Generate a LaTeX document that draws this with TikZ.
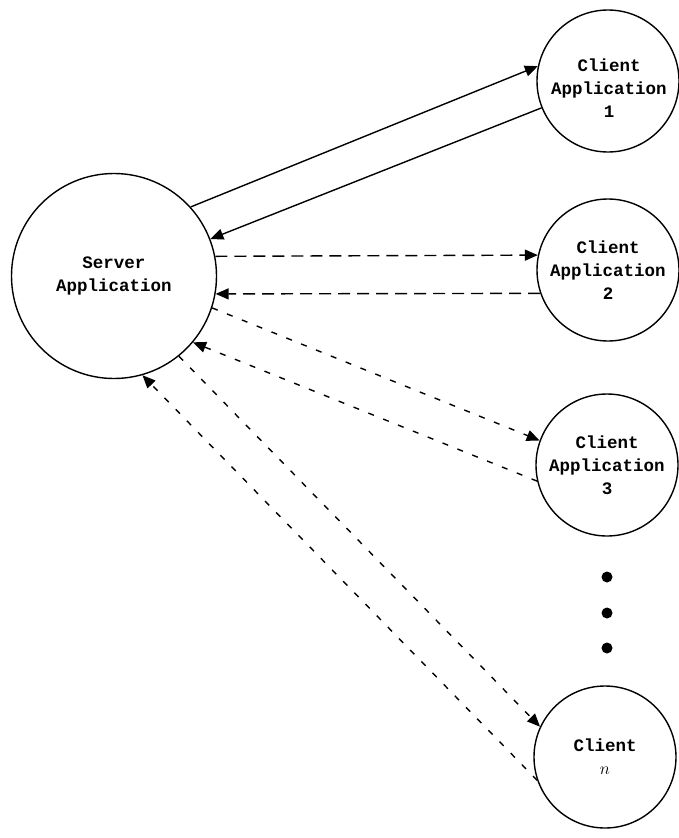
\documentclass[tikz,border=0pt]{standalone}
\usepackage{fontspec}
\newfontfamily\bmfont{Liberation Mono}
\usetikzlibrary{arrows.meta}
\begin{document}
\begin{tikzpicture}[x=1pt,y=-1pt,
  txt/.style={inner sep=0pt,align=center,font=\bmfont\bfseries\fontsize{17.5}{23}\selectfont},
  app/.style={txt,circle,draw,line width=1.4pt},
  srvbox/.style={app,minimum size=205pt},
  clibox/.style={app,minimum size=142pt},
  link/.style={line width=1.4pt,-{Triangle[length=13pt,width=11pt]}},
  dashH/.style={link,dash pattern=on 12pt off 7pt},
  dashD/.style={link,dash pattern=on 6pt off 10pt}]
\useasboundingbox (0,0) rectangle (678,838);
\node[srvbox] (srv) at (114,276) {Server\\Application};
\node[clibox] (c1) at (608,81) {};
\node[txt] (c1t) at (609,88) {Client\\Application\\1};
\node[clibox] (c2) at (608,270) {Client\\Application\\2};
\node[clibox] (c3) at (607,465) {Client\\Application\\3};
\node[clibox] (cn) at (605,757) {Client\\$n$};
\fill (607,577) circle (5.5pt);
\fill (607,613) circle (5.5pt);
\fill (607,648) circle (5.5pt);
\draw[link] (srv.42) -- (c1.168);
\draw[link] (c1.202) -- (srv.21);
\draw[dashH] (srv.11) -- (c2.168);
\draw[dashH] (c2.199) -- (srv.-10.5);
\draw[dashD] (srv.-18) -- (c3.160);
\draw[dashD] (c3.193) -- (srv.-40.5);
\draw[dashD] (srv.-51) -- (cn.155);
\draw[dashD] (cn.199) -- (srv.-74);
\end{tikzpicture}
\end{document}
